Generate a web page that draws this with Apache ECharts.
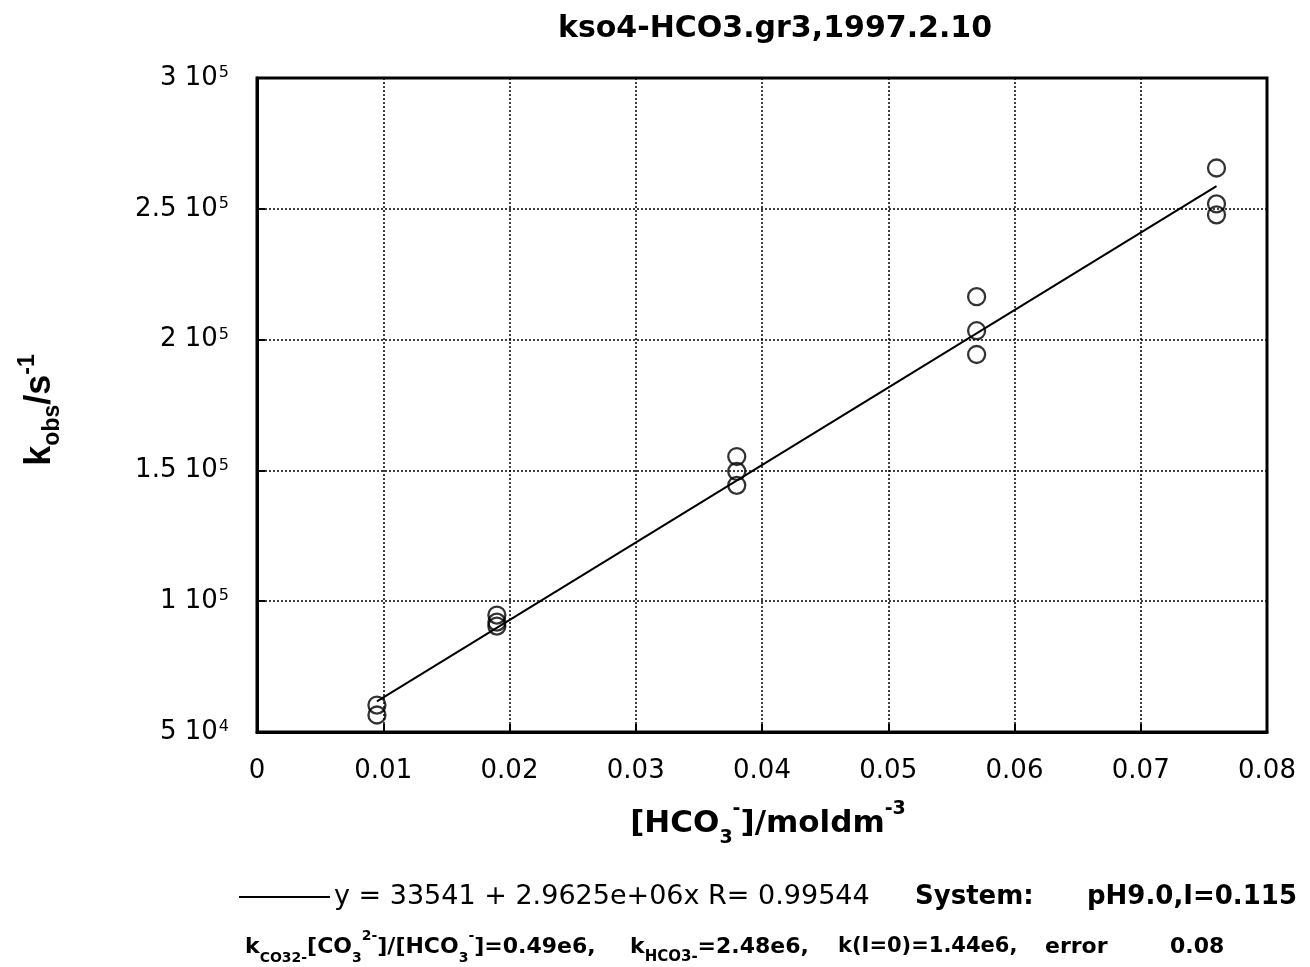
<!DOCTYPE html>
<html>
<head>
<meta charset="utf-8">
<script src="https://cdn.jsdelivr.net/npm/echarts@6/dist/echarts.min.js"></script>
<style>
  html, body { margin: 0; padding: 0; background: #fff; }
  #chart { width: 1310px; height: 967px; }
</style>
</head>
<body>
<div id="chart"></div>
<script>
// 測定点 [HCO3-], kobs
const xData = [0.0095, 0.0095, 0.019, 0.019, 0.019, 0.038, 0.038, 0.038, 0.057, 0.057, 0.057, 0.076, 0.076, 0.076];
const yData = [60300, 56500, 94700, 92000, 90500, 155300, 149600, 144300, 216400, 203400, 194300, 265600, 251900, 247700];

// 回帰直線 y = 33541 + 2.9625e6 x
const fitX = [0.0095, 0.076];
const fitY = [61684, 258691];

const yTickLabels = {
  50000: '5 10{sup|4}',
  100000: '1 10{sup|5}',
  150000: '1.5 10{sup|5}',
  200000: '2 10{sup|5}',
  250000: '2.5 10{sup|5}',
  300000: '3 10{sup|5}'
};

const font = 'DejaVu Sans, sans-serif';
const myChart = echarts.init(document.getElementById('chart'));

const points = xData.map((x, i) => [x, yData[i]]);
const fitLine = fitX.map((x, i) => [x, fitY[i]]);

const richBold = (subSize) => ({
  sub: { fontSize: subSize, fontFamily: font, fontWeight: 'bold', verticalAlign: 'bottom', lineHeight: subSize },
  sup: { fontSize: subSize, fontFamily: font, fontWeight: 'bold', verticalAlign: 'top', lineHeight: subSize }
});

let option = {
  backgroundColor: '#fff',
  animation: false,
  title: {
    text: 'kso4-HCO3.gr3,1997.2.10',
    left: 770,
    top: 9,
    textAlign: 'center',
    textStyle: { fontFamily: font, fontWeight: 'bold', fontSize: 30, color: '#000' }
  },
  grid: {
    left: 257,
    right: 43,
    top: 78,
    bottom: 235,
    show: true,
    borderColor: '#000',
    borderWidth: 3
  },
  xAxis: {
    type: 'value',
    min: 0,
    max: 0.08,
    interval: 0.01,
    axisLine: { show: true, lineStyle: { color: '#000', width: 3 } },
    axisTick: { show: true, inside: true, length: 8, lineStyle: { color: '#000', width: 2 } },
    splitLine: { show: true, lineStyle: { type: [2, 2], color: '#000', width: 1.5 } },
    axisLabel: {
      margin: 26,
      fontFamily: font,
      fontSize: 26,
      color: '#000',
      formatter: v => (v === 0 ? '0' : String(+v.toFixed(2)))
    }
  },
  yAxis: {
    type: 'value',
    min: 50000,
    max: 300000,
    interval: 50000,
    axisLine: { show: true, lineStyle: { color: '#000', width: 3 } },
    axisTick: { show: true, inside: true, length: 8, lineStyle: { color: '#000', width: 2 } },
    splitLine: { show: true, lineStyle: { type: [2, 2], color: '#000', width: 1.5 } },
    axisLabel: {
      margin: 28,
      formatter: v => yTickLabels[v] || '',
      fontFamily: font,
      fontSize: 26,
      color: '#000',
      rich: {
        sup: { fontSize: 16, fontFamily: font, color: '#000', verticalAlign: 'top', lineHeight: 14, padding: [0, 0, 0, 1] }
      }
    }
  },
  series: [
    {
      type: 'line',
      data: fitLine,
      symbol: 'none',
      lineStyle: { color: '#000', width: 2 },
      z: 2
    },
    {
      type: 'scatter',
      data: points,
      symbol: 'circle',
      symbolSize: 17,
      itemStyle: { color: 'rgba(0,0,0,0)', borderColor: '#000', borderWidth: 2.3 },
      z: 3
    }
  ],
  graphic: [
    // y 軸名
    {
      type: 'text',
      x: 40,
      y: 410,
      rotation: Math.PI / 2,
      style: {
        text: 'k{sub|obs}/s{sup|-1}',
        fontFamily: 'Liberation Sans, Arial, sans-serif',
        fontWeight: 'bold',
        fontSize: 36,
        fill: '#000',
        align: 'center',
        verticalAlign: 'middle',
        lineHeight: 48,
        rich: {
          sub: { fontSize: 23, fontFamily: 'Liberation Sans', fontWeight: 'bold', verticalAlign: 'bottom', lineHeight: 17 },
          sup: { fontSize: 23, fontFamily: 'Liberation Sans', fontWeight: 'bold', verticalAlign: 'top', lineHeight: 17 }
        }
      }
    },
    // x 軸名
    {
      type: 'text',
      x: 768,
      y: 824,
      style: {
        text: '[HCO{sub|3}{sup|-}]/moldm{sup|-3}',
        fontFamily: font,
        fontWeight: 'bold',
        fontSize: 31,
        fill: '#000',
        align: 'center',
        verticalAlign: 'middle',
        lineHeight: 48,
        rich: richBold(19)
      }
    },
    // 凡例
    {
      type: 'line',
      shape: { x1: 239, y1: 897, x2: 330, y2: 897 },
      style: { stroke: '#000', lineWidth: 2 }
    },
    {
      type: 'text',
      x: 334,
      y: 897,
      style: {
        text: 'y = 33541 + 2.9625e+06x R= 0.99544',
        fontFamily: font,
        fontSize: 27,
        fill: '#000',
        verticalAlign: 'middle'
      }
    },
    {
      type: 'text',
      x: 915,
      y: 897,
      style: { text: 'System:', fontFamily: font, fontWeight: 'bold', fontSize: 26, fill: '#000', verticalAlign: 'middle' }
    },
    {
      type: 'text',
      x: 1087,
      y: 897,
      style: { text: 'pH9.0,I=0.115', fontFamily: font, fontWeight: 'bold', fontSize: 26, fill: '#000', verticalAlign: 'middle' }
    },
    {
      type: 'text',
      x: 245,
      y: 947,
      style: {
        text: 'k{sub|CO32-}[CO{sub|3}{sup|2-}]/[HCO{sub|3}{sup|-}]=0.49e6,',
        fontFamily: font,
        fontWeight: 'bold',
        fontSize: 22,
        fill: '#000',
        verticalAlign: 'middle',
        lineHeight: 36,
        rich: richBold(14)
      }
    },
    {
      type: 'text',
      x: 630,
      y: 947,
      style: {
        text: 'k{sub|HCO3-}=2.48e6,',
        fontFamily: font,
        fontWeight: 'bold',
        fontSize: 22,
        fill: '#000',
        verticalAlign: 'middle',
        lineHeight: 36,
        rich: richBold(15)
      }
    },
    {
      type: 'text',
      x: 838,
      y: 947,
      style: { text: 'k(I=0)=1.44e6,', fontFamily: font, fontWeight: 'bold', fontSize: 21, fill: '#000', verticalAlign: 'middle' }
    },
    {
      type: 'text',
      x: 1045,
      y: 947,
      style: { text: 'error', fontFamily: font, fontWeight: 'bold', fontSize: 22, fill: '#000', verticalAlign: 'middle' }
    },
    {
      type: 'text',
      x: 1170,
      y: 947,
      style: { text: '0.08', fontFamily: font, fontWeight: 'bold', fontSize: 22, fill: '#000', verticalAlign: 'middle' }
    }
  ]
};

option && myChart.setOption(option);
</script>
</body>
</html>
